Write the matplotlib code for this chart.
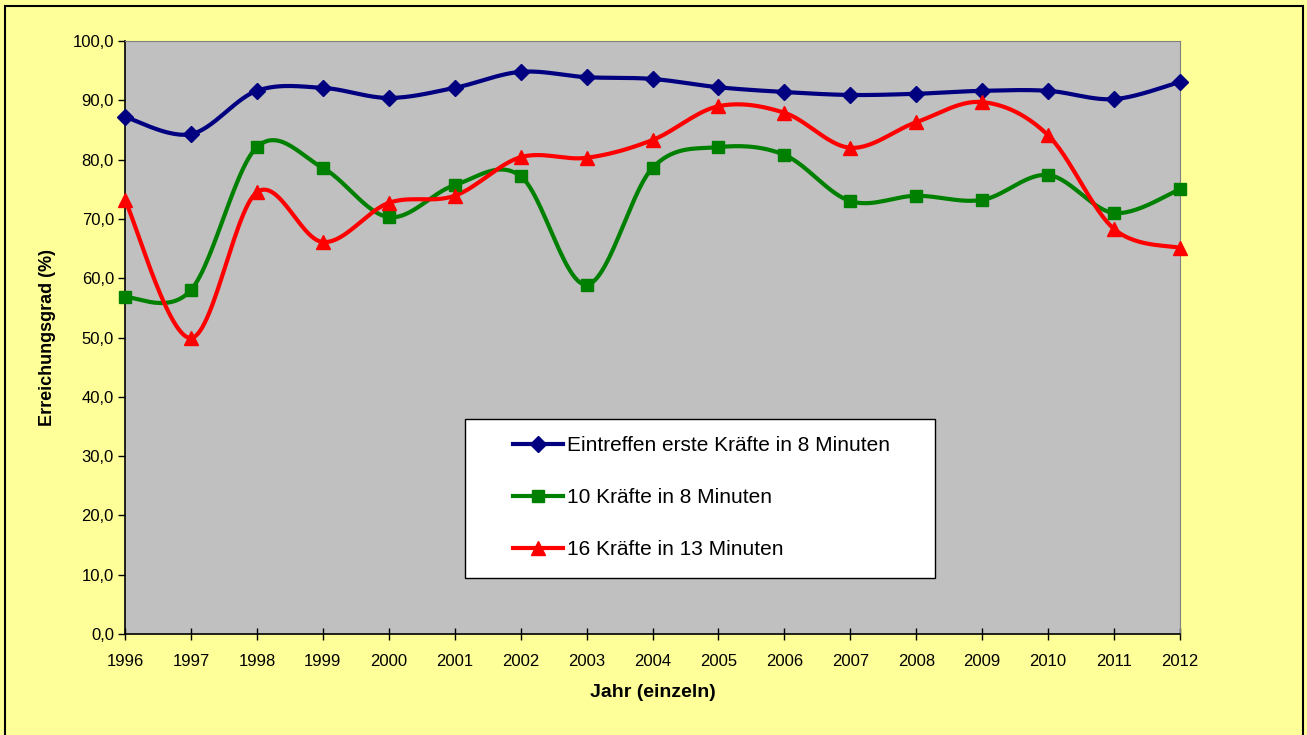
import numpy as np
import matplotlib
matplotlib.use('Agg')
import matplotlib.pyplot as plt
from matplotlib.patches import Rectangle
from matplotlib.lines import Line2D

plt.rcParams['font.family'] = ['Liberation Sans', 'DejaVu Sans']

# Daten
jahre = list(range(1996, 2013))
erste_kraefte = [87.2, 84.3, 91.6, 92.1, 90.4, 92.1, 94.8, 93.9, 93.6, 92.2, 91.4, 90.9, 91.1, 91.6, 91.6, 90.2, 93.1]
zehn_kraefte = [56.8, 58.0, 82.1, 78.6, 70.3, 75.7, 77.2, 58.9, 78.6, 82.1, 80.8, 73.0, 73.9, 73.2, 77.4, 71.0, 75.0]
sechzehn_kraefte = [73.2, 49.9, 74.5, 66.1, 72.7, 73.9, 80.4, 80.3, 83.3, 89.0, 87.9, 82.0, 86.3, 89.7, 84.1, 68.3, 65.1]

namen = ['Eintreffen erste Kräfte in 8 Minuten', '10 Kräfte in 8 Minuten', '16 Kräfte in 13 Minuten']
farben = ['#000080', '#008000', '#FF0000']
marker = ['D', 's', '^']
msize = [8, 9, 10]


def glatt(x, y, n=30):
    # Excel-artige geglaettete Linie (Catmull-Rom als Bezier)
    x = np.asarray(x, float)
    y = np.asarray(y, float)
    px = np.concatenate([[x[0]], x, [x[-1]]])
    py = np.concatenate([[y[0]], y, [y[-1]]])
    t = np.linspace(0, 1, n)[:, None]
    xs, ys = [], []
    for i in range(1, len(px) - 2):
        p0 = np.array([px[i], py[i]])
        p3 = np.array([px[i + 1], py[i + 1]])
        p1 = p0 + (p3 - np.array([px[i - 1], py[i - 1]])) / 6
        p2 = p3 - (np.array([px[i + 2], py[i + 2]]) - p0) / 6
        b = ((1 - t) ** 3) * p0 + 3 * ((1 - t) ** 2) * t * p1 + 3 * (1 - t) * t ** 2 * p2 + t ** 3 * p3
        xs.append(b[:, 0])
        ys.append(b[:, 1])
    return np.concatenate(xs), np.concatenate(ys)


fig = plt.figure(figsize=(13.07, 7.35), dpi=100, facecolor='#FFFF99')
ax = fig.add_axes([125 / 1307, 1 - 634 / 735, 1055 / 1307, 593 / 735])
ax.set_facecolor('#C0C0C0')

handles = []
for werte, name, f, m, ms in zip([erste_kraefte, zehn_kraefte, sechzehn_kraefte], namen, farben, marker, msize):
    gx, gy = glatt(jahre, werte)
    ax.plot(gx, gy, color=f, lw=3, solid_capstyle='round', zorder=3)
    ax.plot(jahre, werte, ls='none', marker=m, color=f, markersize=ms, zorder=4, clip_on=False)
    handles.append(Line2D([], [], color=f, lw=3, marker=m, markersize=ms))

ax.set_xlim(1996, 2012)
ax.set_ylim(0, 100)
ax.set_xticks(jahre)
ax.set_yticks(np.arange(0, 101, 10))
ax.set_yticklabels([f'{v:.1f}'.replace('.', ',') for v in np.arange(0, 101, 10)])
ax.tick_params(axis='y', direction='out', length=5, labelsize=12, width=1, pad=3)
ax.tick_params(axis='x', direction='inout', length=9, labelsize=12, width=1, pad=10)

for s in ['top', 'right']:
    ax.spines[s].set_color('#808080')
for s in ['left', 'bottom']:
    ax.spines[s].set_color('black')
    ax.spines[s].set_linewidth(1.2)

ax.set_ylabel('Erreichungsgrad (%)', fontsize=13, fontweight='bold', labelpad=12)
ax.set_xlabel('Jahr (einzeln)', fontsize=14, fontweight='bold', labelpad=11)

# Legendenrahmen
fig.patches.append(Rectangle((465 / 1307, 1 - 578 / 735), 470 / 1307, 159 / 735, transform=fig.transFigure,
                             facecolor='white', edgecolor='black', lw=1, zorder=5))
leg = fig.legend(handles, namen, loc='upper left', bbox_to_anchor=(513 / 1307, 1 - 436 / 735),
                 fontsize=15, frameon=False, handlelength=2.4, labelspacing=1.58, borderpad=0,
                 handletextpad=0.2, borderaxespad=0)
leg.set_zorder(6)

fig.patches.append(Rectangle((5 / 1307, -0.01), 1298 / 1307, 1.01 - 6 / 735, transform=fig.transFigure,
                             fill=False, edgecolor='black', lw=1.5))

fig.savefig('out.png', dpi=100, facecolor=fig.get_facecolor())
